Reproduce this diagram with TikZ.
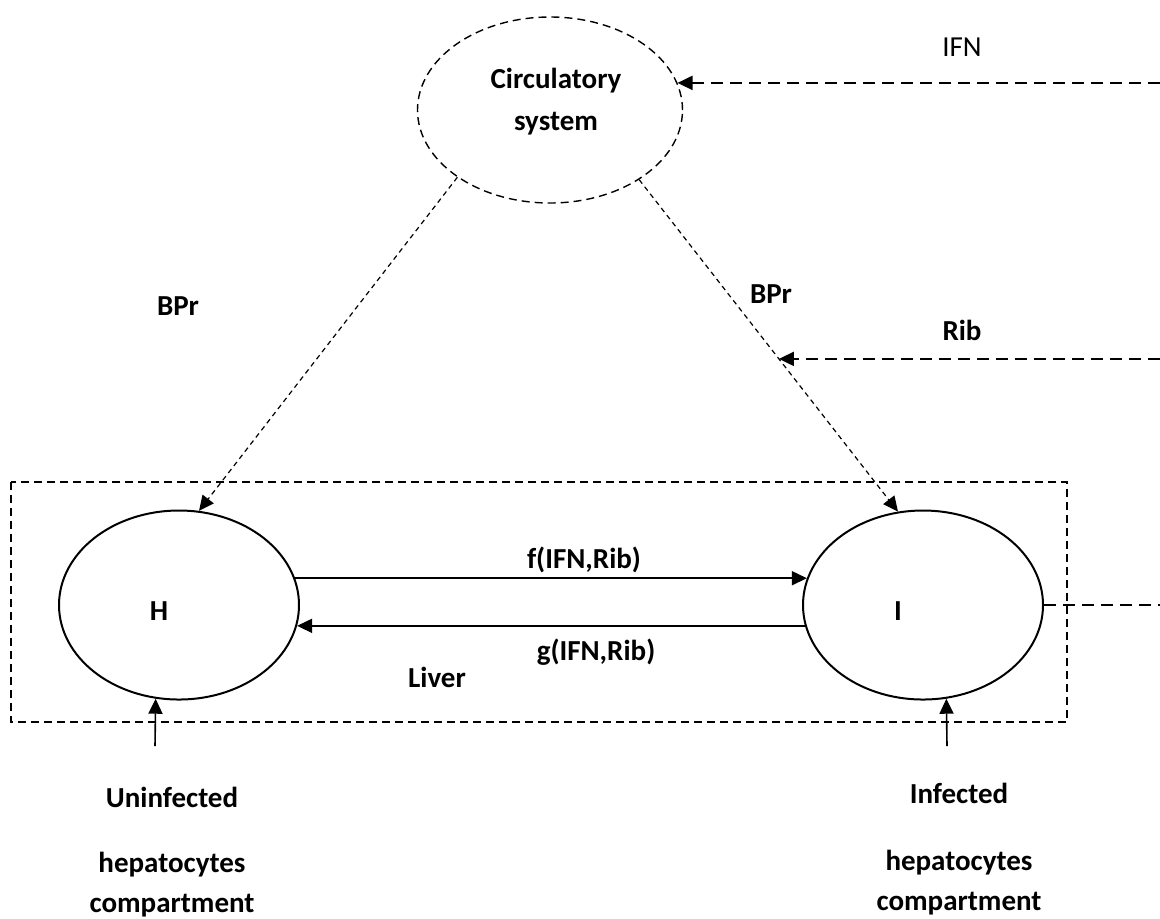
\documentclass[tikz,border=0pt]{standalone}
\usepackage{fontspec}
\setmainfont{Carlito}
\usetikzlibrary{shapes.geometric,arrows.meta}

\begin{document}
\begin{tikzpicture}[x=0.5pt,y=-0.5pt,
    cell/.style={draw,ellipse,line width=1pt,minimum width=120pt,minimum height=94.5pt,inner sep=0pt},
    circsys/.style={draw,ellipse,line width=0.7pt,dash pattern=on 4pt off 2.5pt,minimum width=132.5pt,minimum height=93pt,inner sep=0pt},
    lbl/.style={anchor=base,inner sep=0pt,font=\fontsize{14.5}{17}\selectfont\bfseries},
    plainlbl/.style={anchor=base,inner sep=0pt,font=\fontsize{14.5}{17}\selectfont},
    tip/.style={-{Triangle[length=7.5pt,width=7pt]}},
    flow/.style={line width=0.8pt},
    bloodline/.style={line width=0.6pt,dash pattern=on 2.5pt off 2pt},
    drugline/.style={line width=1pt,dash pattern=on 6pt off 3.5pt},
    boxline/.style={line width=0.7pt,dash pattern=on 4pt off 2.5pt}]
    \useasboundingbox (0,0) rectangle (1160,918);

    % Compartments
    \node[circsys] (circ) at (550,110) {};
    \node[cell] (H) at (179,605) {};
    \node[cell] (I) at (923,605) {};
    \draw[boxline] (11,482) rectangle (1067,722);
    \coordinate (rim) at (1160,0);

    % Texts
    \node[lbl] (circname) at (556,88) {Circulatory};
    \node[lbl] (circname2) at (556,130) {system};
    \node[lbl] (Hname) at (159,620) {H};
    \node[lbl] (Iname) at (898,620) {I};
    \node[plainlbl] (ifnlbl) at (962,56) {IFN};
    \node[lbl] (riblbl) at (962,340) {Rib};
    \node[lbl] (bprleft) at (178,315) {BPr};
    \node[lbl] (bprright) at (771,303) {BPr};
    \node[lbl] (flbl) at (584,568) {f(IFN,Rib)};
    \node[lbl] (glbl) at (596,660) {g(IFN,Rib)};
    \node[lbl] (liverlbl) at (437,687) {Liver};
    \node[lbl] (unin1) at (172,807) {Uninfected};
    \node[lbl] (unin2) at (172,872) {hepatocytes};
    \node[lbl] (unin3) at (172,912) {compartment};
    \node[lbl] (inf1) at (959,803) {Infected};
    \node[lbl] (inf2) at (959,870) {hepatocytes};
    \node[lbl] (inf3) at (959,910) {compartment};

    % Blood exchange
    \draw[bloodline,tip] (circ.216) -- (H.78);
    \draw[bloodline,tip] (circ.322) -- coordinate[pos=0.54] (ribtip) (I.105);

    % Treatment
    \draw[drugline,tip] (circ.12 -| rim) -- (circ.12);
    \draw[drugline,tip] (ribtip -| rim) -- (ribtip);
    \draw[drugline] (I.east) -- (I.east -| rim);

    % Infection
    \draw[flow,tip] (H.13) -- (I.167);
    \draw[flow,tip] (I.190) -- (H.350);
    \coordinate (Hin) at (155,746);
    \coordinate (Iin) at (947,746);
    \draw[flow,tip] (Hin) -- (H.256);
    \draw[flow,tip] (Iin) -- (I.284);
\end{tikzpicture}
\end{document}
